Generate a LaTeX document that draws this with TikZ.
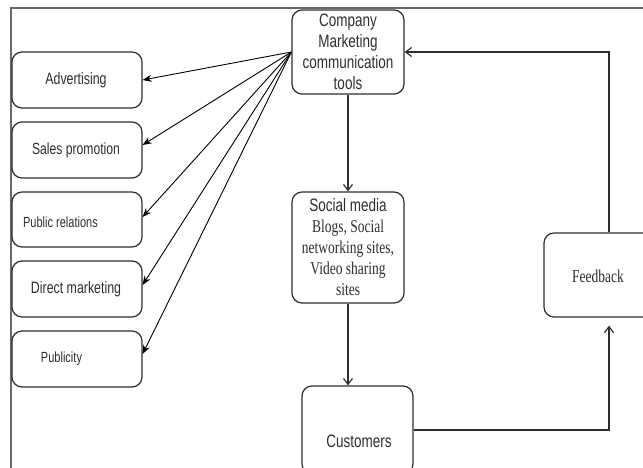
\documentclass[tikz,border=0pt]{standalone}
\usepackage{fontspec}
\newfontfamily\nsans[FakeStretch=0.75]{Liberation Sans}
\newfontfamily\nserif[FakeStretch=0.75]{Liberation Serif}
\usetikzlibrary{arrows.meta}
\definecolor{ink}{HTML}{2E2E2E}
\definecolor{framegray}{HTML}{6A6A6A}
\begin{document}
\begin{tikzpicture}[x=1pt,y=1pt,
  box/.style={draw=ink, line width=1.2pt, rounded corners=10pt, inner sep=0pt, text=ink, align=center},
  lbl/.style={text=ink, inner sep=0pt, align=center},
  fan/.style={draw=black, line width=0.9pt, -{Stealth[length=9pt,width=7pt]}},
  flow/.style={draw=ink, line width=1.2pt, -{Straight Barb[length=6pt,width=9pt]}}
]
\useasboundingbox (0,0) rectangle (643,467);
\clip (0,0) rectangle (643,467);
\draw[framegray, line width=2pt] (11,459) rectangle (720,-30);

% left boxes
\node[box, minimum width=130pt, minimum height=56pt] (adv) at (77,387) {};
\node[box, minimum width=130pt, minimum height=56pt] (sp)  at (77,317) {};
\node[box, minimum width=130pt, minimum height=55pt] (pr)  at (77,247.5) {};
\node[box, minimum width=130pt, minimum height=56pt] (dm)  at (77,178) {};
\node[box, minimum width=130pt, minimum height=56pt] (pub) at (77,108) {};
\node[lbl, font=\nsans\fontsize{16.5}{19}\selectfont] (advt) at (76,387) {Advertising};
\node[lbl, font=\nsans\fontsize{16.2}{19}\selectfont] (spt)  at (76,317) {Sales promotion};
\node[lbl, font=\nsans\fontsize{14.7}{17}\selectfont] (prt)  at (60.5,245) {Public relations};
\node[lbl, font=\nsans\fontsize{16.5}{19}\selectfont] (dmt)  at (76,178) {Direct marketing};
\node[lbl, font=\nsans\fontsize{14.7}{17}\selectfont] (pubt) at (61.5,108) {Publicity};

% centre column
\node[box, minimum width=112pt, minimum height=84pt, font=\nsans\fontsize{18}{21}\selectfont] (comp) at (348,415)
  {Company\\Marketing\\communication\\tools};
\node[box, minimum width=112pt, minimum height=111pt, font=\nserif\fontsize{18}{21}\selectfont] (sm) at (348,219.5)
  {{\nsans Social media}\\Blogs, Social\\networking sites,\\Video sharing\\sites};
\node[box, minimum width=111pt, minimum height=88pt] (cust) at (357.5,37) {};
\node[lbl, font=\nsans\fontsize{18}{21}\selectfont] (custt) at (359,26) {Customers};

% feedback
\node[box, minimum width=130pt, minimum height=84pt] (fb) at (609,192) {};
\node[lbl, font=\nserif\fontsize{18}{21}\selectfont] (fbt) at (598,191) {Feedback};

% fan of arrows
\draw[fan] (comp.west) -- (adv.east);
\draw[fan] (comp.west) -- ([yshift=5pt]sp.east);
\draw[fan] (comp.west) -- ([yshift=2.5pt]pr.east);
\draw[fan] (comp.west) -- ([yshift=4pt]dm.east);
\draw[fan] (comp.west) -- ([yshift=5pt]pub.east);

% flow
\draw[flow] (comp.south) -- (sm.north);
\draw[flow] (sm.south) -- (sm.south |- cust.north);
\draw[flow, shorten >=8pt] (cust.east) -| (fb.south);
\draw[flow] (fb.north) |- (comp.east);
\end{tikzpicture}
\end{document}
